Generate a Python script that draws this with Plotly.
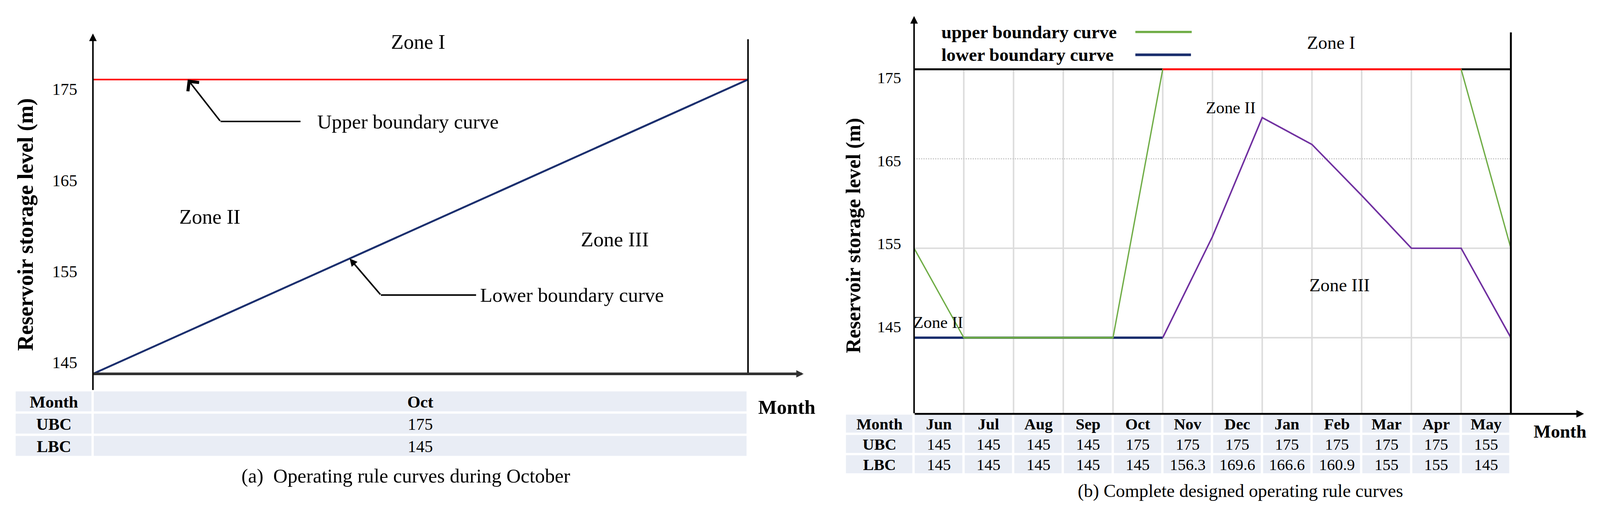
import plotly.graph_objects as go

# reference picture size (all geometry below is measured in these pixels)
W, H = 4201, 1332
# the page is photographed with a slight zoom; lay out in CSS pixels
S = 4201 / 4096
FONT = "Liberation Serif"

# ---------------- data ----------------
MONTHS = ["Jun", "Jul", "Aug", "Sep", "Oct", "Nov", "Dec", "Jan", "Feb", "Mar", "Apr", "May"]
UBC = [145, 145, 145, 145, 175, 175, 175, 175, 175, 175, 175, 155]
LBC = [145, 145, 145, 145, 145, 156.3, 169.6, 166.6, 160.9, 155, 155, 145]
Y_TICKS = [145, 155, 165, 175]
ROW_LABELS = ["Month", "UBC", "LBC"]

OCT_MONTH = ["Oct"]
OCT_UBC = [175]
OCT_LBC = [145]
OCT_X = [0, 1]                 # start / end of October
OCT_UBC_LINE = [175, 175]
OCT_LBC_LINE = [145, 175]

# ---------------- style ----------------
GREEN = "#70AD47"
NAVY = "#1B2F6E"
PURPLE = "#7030A0"
RED = "#FF0000"
GRID = "#DCDCDC"
FILL = "#E9EDF5"


def sz(v):
    return v / S


def pxx(p):
    return p / W


def pxy(p):
    return 1 - p / H


def lin(p, v0, p0, v1, p1):
    return v0 + (p - p0) * (v1 - v0) / (p1 - p0)


# ---- panel (a) geometry (pixel anchors) ----
A_XDOM = (39, 2200)
A_X = (0, 244, 1, 1964)
A_YDOM = (80, 1026)
A_Y = (145, 982, 175, 209)
A_YT = (145, 952, 175, 234)
A_TDOM = (1026, 1201)

# ---- panel (b) geometry ----
B_XDOM = (2219, 4200)
B_X = (0, 2400, 12, 3967)
B_YDOM = (30, 1087)
B_Y = (145, 887, 175, 182)
B_YT = (145, 858, 175, 204)
B_TDOM = (1087, 1247)

ax_rng = [lin(A_XDOM[0], *A_X), lin(A_XDOM[1], *A_X)]
ay_rng = [lin(A_YDOM[1], *A_Y), lin(A_YDOM[0], *A_Y)]
ayt_rng = [lin(A_YDOM[1], *A_YT), lin(A_YDOM[0], *A_YT)]
bx_rng = [lin(B_XDOM[0], *B_X), lin(B_XDOM[1], *B_X)]
by_rng = [lin(B_YDOM[1], *B_Y), lin(B_YDOM[0], *B_Y)]
byt_rng = [lin(B_YDOM[1], *B_YT), lin(B_YDOM[0], *B_YT)]

fig = go.Figure()

# ================= panel (a) lines =================
fig.add_trace(go.Scatter(x=OCT_X, y=OCT_UBC_LINE, mode="lines", line=dict(color=RED, width=sz(4)),
                         xaxis="x", yaxis="y", showlegend=False, hoverinfo="skip"))
fig.add_trace(go.Scatter(x=OCT_X, y=OCT_LBC_LINE, mode="lines", line=dict(color=NAVY, width=sz(5)),
                         xaxis="x", yaxis="y", showlegend=False, hoverinfo="skip"))
fig.add_trace(go.Scatter(x=[0], y=[Y_TICKS[0]], mode="markers", marker=dict(opacity=0),
                         xaxis="x", yaxis="y4", showlegend=False, hoverinfo="skip"))


def fmt(v):
    return f"{v:g}"


def table_trace(edges, months, ubc, lbc, xa, ya, size):
    text = [["<b>%s</b>" % ROW_LABELS[0]] + ["<b>%s</b>" % m for m in months],
            ["<b>%s</b>" % ROW_LABELS[1]] + [fmt(v) for v in ubc],
            ["<b>%s</b>" % ROW_LABELS[2]] + [fmt(v) for v in lbc]]
    z = [[0] * (len(months) + 1) for _ in range(3)]
    return go.Heatmap(x=edges, y=[0, 1, 2], z=z, text=text, texttemplate="%{text}",
                      textfont=dict(family=FONT, size=sz(size), color="black"),
                      colorscale=[[0, FILL], [1, FILL]], zmin=0, zmax=1, showscale=False,
                      xgap=sz(6), ygap=sz(6), hoverinfo="skip", xaxis=xa, yaxis=ya)


fig.add_trace(table_trace([ax_rng[0]] + OCT_X, OCT_MONTH, OCT_UBC, OCT_LBC, "x", "y3", 44))

# ================= panel (b) lines =================
xb = list(range(len(MONTHS) + 1))
ubc_pts = [UBC[-1]] + UBC
lbc_pts = [LBC[-1]] + LBC
split = MONTHS.index("Oct") + 1
top = max(UBC)
red_pts = [v if (v == top and ((i > 0 and ubc_pts[i - 1] == top) or (i < len(ubc_pts) - 1 and ubc_pts[i + 1] == top))) else None
           for i, v in enumerate(ubc_pts)]
# where the upper curve lies on the lower curve (flat common stretch)
same_pts = [u if (u == l and ((i > 0 and ubc_pts[i - 1] == lbc_pts[i - 1] == u) or
                              (i < len(ubc_pts) - 1 and ubc_pts[i + 1] == lbc_pts[i + 1] == u))) else None
            for i, (u, l) in enumerate(zip(ubc_pts, lbc_pts))]

fig.add_trace(go.Scatter(x=xb[:split + 1], y=lbc_pts[:split + 1], mode="lines", line=dict(color=NAVY, width=sz(6)),
                         xaxis="x2", yaxis="y2", showlegend=False, hoverinfo="skip"))
fig.add_trace(go.Scatter(x=xb[split:], y=lbc_pts[split:], mode="lines", line=dict(color=PURPLE, width=sz(4)),
                         xaxis="x2", yaxis="y2", showlegend=False, hoverinfo="skip"))
fig.add_trace(go.Scatter(x=xb, y=ubc_pts, mode="lines", line=dict(color=GREEN, width=sz(3.5)),
                         xaxis="x2", yaxis="y2", showlegend=False, hoverinfo="skip"))
fig.add_trace(go.Scatter(x=xb, y=same_pts, mode="lines", line=dict(color=GREEN, width=sz(5)),
                         xaxis="x2", yaxis="y2", showlegend=False, hoverinfo="skip"))
fig.add_trace(go.Scatter(x=xb, y=red_pts, mode="lines", line=dict(color=RED, width=sz(5)),
                         xaxis="x2", yaxis="y2", showlegend=False, hoverinfo="skip"))
fig.add_trace(go.Scatter(x=[0], y=[Y_TICKS[0]], mode="markers", marker=dict(opacity=0),
                         xaxis="x2", yaxis="y5", showlegend=False, hoverinfo="skip"))

fig.add_trace(table_trace([bx_rng[0]] + xb, MONTHS, UBC, LBC, "x2", "y6", 42))

# ================= shapes =================
shapes = []
# panel b grid
for i in range(1, len(MONTHS)):
    shapes.append(dict(type="line", xref="x2", yref="y2", x0=i, x1=i, y0=by_rng[0], y1=top,
                       line=dict(color=GRID, width=sz(4)), layer="below"))
for v in Y_TICKS[:-1]:
    shapes.append(dict(type="line", xref="x2", yref="y2", x0=0, x1=len(MONTHS), y0=v, y1=v,
                       line=dict(color=GRID if v != 165 else "#C8C8C8", width=sz(4) if v != 165 else sz(3),
                                 dash="solid" if v != 165 else "dot"),
                       layer="below"))
# panel b frame
shapes.append(dict(type="line", xref="x2", yref="y2", x0=0, x1=len(MONTHS), y0=top, y1=top,
                   line=dict(color="black", width=sz(5)), layer="below"))
shapes.append(dict(type="line", xref="x2", yref="y2", x0=len(MONTHS), x1=len(MONTHS),
                   y0=by_rng[0], y1=lin(85, *B_Y), line=dict(color="black", width=sz(5))))
# panel a frame
shapes.append(dict(type="line", xref="x", yref="y", x0=1, x1=1, y0=OCT_LBC_LINE[0], y1=lin(103, *A_Y),
                   line=dict(color="black", width=sz(4))))
# panel a leader lines (horizontal parts)
UP_BEND = (lin(579, *A_X), lin(319, *A_Y))
UP_END = lin(789, *A_X)
LO_BEND = (lin(1000, *A_X), lin(775, *A_Y))
LO_END = lin(1250, *A_X)
shapes.append(dict(type="line", xref="x", yref="y", x0=UP_BEND[0], x1=UP_END, y0=UP_BEND[1], y1=UP_BEND[1],
                   line=dict(color="black", width=sz(4))))
shapes.append(dict(type="line", xref="x", yref="y", x0=LO_BEND[0], x1=LO_END, y0=LO_BEND[1], y1=LO_BEND[1],
                   line=dict(color="black", width=sz(4))))
# legend keys (panel b)
shapes.append(dict(type="line", xref="paper", yref="paper", x0=pxx(2981), x1=pxx(3129), y0=pxy(84), y1=pxy(84),
                   line=dict(color=GREEN, width=sz(6))))
shapes.append(dict(type="line", xref="paper", yref="paper", x0=pxx(2981), x1=pxx(3127), y0=pxy(144), y1=pxy(144),
                   line=dict(color=NAVY, width=sz(7))))

# ================= annotations =================
ann = []


def txt(text, x, y, size, bold=False, xanchor="center", angle=0):
    ann.append(dict(text=("<b>%s</b>" % text) if bold else text, x=pxx(x), y=pxy(y), xref="paper", yref="paper",
                    xanchor=xanchor, yanchor="middle", showarrow=False, textangle=angle,
                    font=dict(family=FONT, size=sz(size), color="black")))


def arrow(xref, yref, x, y, ax, ay, width, size, head=2, color="black"):
    ann.append(dict(text="", x=x, y=y, ax=ax, ay=ay, xref=xref, yref=yref, axref=xref, ayref=yref,
                    showarrow=True, arrowhead=head, arrowsize=size, arrowwidth=sz(width), arrowcolor=color,
                    standoff=0))


# panel a axes arrows
arrow("x", "y", 0, lin(88, *A_Y), 0, ay_rng[0], 4, 1.0)
arrow("x", "y", lin(2110, *A_X), OCT_LBC_LINE[0], 0, OCT_LBC_LINE[0], 7, 0.55, color="#303030")
# panel a leader arrows (tips on the curves)
up_tip_x = lin(493, *A_X)
up_tip_y = OCT_UBC_LINE[0] + (OCT_UBC_LINE[1] - OCT_UBC_LINE[0]) * up_tip_x
lo_tip_x = lin(918, *A_X)
lo_tip_y = OCT_LBC_LINE[0] + (OCT_LBC_LINE[1] - OCT_LBC_LINE[0]) * lo_tip_x
arrow("x", "y", up_tip_x, up_tip_y, UP_BEND[0], UP_BEND[1], 4, 1.8, head=4)
arrow("x", "y", lo_tip_x, lo_tip_y, LO_BEND[0], LO_BEND[1], 4, 1.0, head=2)

# panel b axes arrows
arrow("x2", "y2", 0, lin(42, *B_Y), 0, by_rng[0], 4, 1.0)
arrow("x2", "y2", lin(4159, *B_X), by_rng[0], 0, by_rng[0], 5, 0.8)

# panel a texts
txt("Zone I", 1098, 110, 54)
txt("Upper boundary curve", 831, 319, 53, xanchor="left")
txt("Zone II", 551, 569, 54)
txt("Zone III", 1614, 629, 54)
txt("Lower boundary curve", 1258, 775, 53, xanchor="left")
txt("Reservoir storage level (m)", 67, 590, 58, bold=True, angle=-90)
txt("Month", 2066, 1070, 52, bold=True)
txt("(a)\u00a0 Operating rule curves during October", 1066, 1250, 52)

# panel b texts
txt("upper boundary curve", 2470, 84, 48, bold=True, xanchor="left")
txt("lower boundary curve", 2470, 144, 48, bold=True, xanchor="left")
txt("Zone I", 3495, 112, 48)
txt("Zone II", 3231, 283, 44)
txt("Zone III", 3517, 749, 48)
txt("Zone II", 2463, 846, 44)
txt("Reservoir storage level (m)", 2241, 618, 54, bold=True, angle=-90)
txt("Month", 4096, 1133, 48, bold=True)
txt("(b) Complete designed operating rule curves", 3257, 1289, 48)

hidden = dict(visible=False, showgrid=False, zeroline=False, fixedrange=True)
tickax = dict(showgrid=False, zeroline=False, showline=False, ticks="", tickvals=Y_TICKS,
              anchor="free", side="left")

fig.update_layout(
    width=round(W / S), height=round(H / S), margin=dict(l=0, r=0, t=0, b=0),
    paper_bgcolor="white", plot_bgcolor="rgba(0,0,0,0)",
    showlegend=False,
    xaxis=dict(domain=[pxx(A_XDOM[0]), pxx(A_XDOM[1])], range=ax_rng, anchor="y", **hidden),
    yaxis=dict(domain=[pxy(A_YDOM[1]), pxy(A_YDOM[0])], range=ay_rng, anchor="x", **hidden),
    yaxis3=dict(domain=[pxy(A_TDOM[1]), pxy(A_TDOM[0])], range=[2.5, -0.5], anchor="x", **hidden),
    yaxis4=dict(overlaying="y", range=ayt_rng, position=pxx(203),
                tickfont=dict(family=FONT, size=sz(44), color="black"), **tickax),
    xaxis2=dict(domain=[pxx(B_XDOM[0]), pxx(B_XDOM[1])], range=bx_rng, anchor="y2", **hidden),
    yaxis2=dict(domain=[pxy(B_YDOM[1]), pxy(B_YDOM[0])], range=by_rng, anchor="x2", **hidden),
    yaxis6=dict(domain=[pxy(B_TDOM[1]), pxy(B_TDOM[0])], range=[2.5, -0.5], anchor="x2", **hidden),
    yaxis5=dict(overlaying="y2", range=byt_rng, position=pxx(2366),
                tickfont=dict(family=FONT, size=sz(42), color="black"), **tickax),
    shapes=shapes,
    annotations=ann,
)

fig.write_html("out.html", config={"displayModeBar": False},
               post_script="document.body.style.margin='0';document.body.style.overflow='hidden';")
